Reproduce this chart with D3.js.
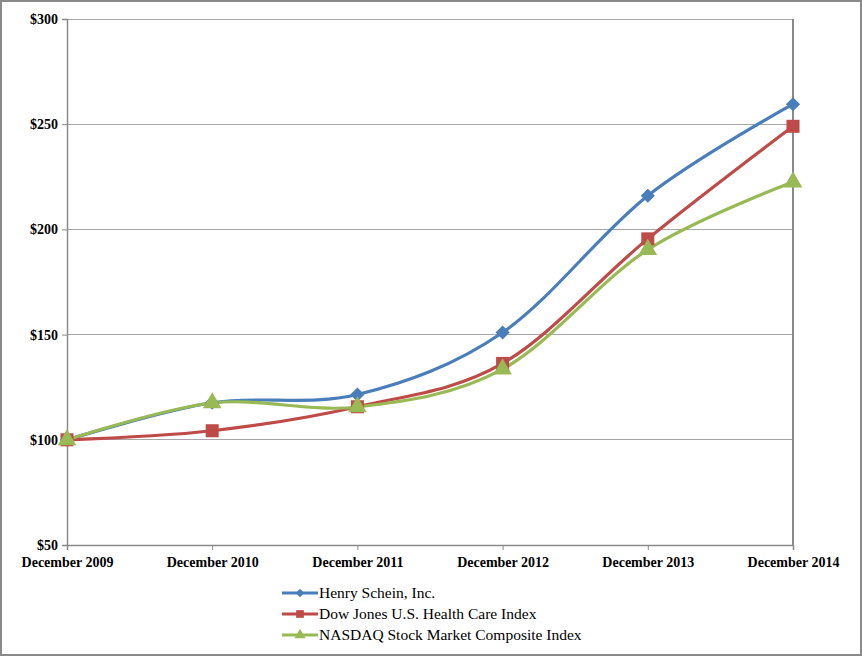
<!DOCTYPE html>
<html><head><meta charset="utf-8">
<script src="https://cdn.jsdelivr.net/npm/d3@7"></script>
<style>
html,body{margin:0;padding:0;background:#fff;}
svg{display:block;}
.lbl{font-family:'Liberation Serif','Times New Roman',serif;}
</style></head>
<body>
<svg id="c" width="862" height="656"></svg>
<script>
const categories = ["December 2009","December 2010","December 2011","December 2012","December 2013","December 2014"];
const henrySchein = [100, 117.6, 121.5, 151, 216, 259.5];
const dowJones = [100, 104.3, 115.7, 136.3, 195.5, 249];
const nasdaq = [100, 117.5, 115.6, 133.6, 190.4, 222.5];
const seriesNames = ["Henry Schein, Inc.","Dow Jones U.S. Health Care Index","NASDAQ Stock Market Composite Index"];
const yTicks = [50,100,150,200,250,300];

const series = [
  {name: seriesNames[0], values: henrySchein, color: "#4A7EBB", marker: d3.symbolSquare, rot: 45, size: 100},
  {name: seriesNames[1], values: dowJones, color: "#BE4B48", marker: d3.symbolSquare, rot: 0, size: 170},
  {name: seriesNames[2], values: nasdaq, color: "#98B954", marker: d3.symbolTriangle, rot: 0, size: 150}
];

const svg = d3.select("#c");
svg.append("rect").attr("x",1).attr("y",1).attr("width",860).attr("height",654)
  .attr("fill","#fff").attr("stroke","#8a8a8a").attr("stroke-width",2);

const L=67, R=793, T=19, B=545;
const x = d3.scalePoint().domain(categories).range([L,R]);
const y = d3.scaleLinear().domain([50,300]).range([B,T]);

svg.append("g").selectAll("line").data(yTicks.slice(1)).join("line")
  .attr("x1",L).attr("x2",R).attr("y1",d=>y(d)).attr("y2",d=>y(d))
  .attr("stroke","#a6a6a6").attr("stroke-width",1).attr("shape-rendering","crispEdges");
svg.append("line").attr("x1",R).attr("x2",R).attr("y1",T).attr("y2",B)
  .attr("stroke","#8a8a8a").attr("stroke-width",1.5).attr("shape-rendering","crispEdges");

const yAxis = svg.append("g").attr("transform",`translate(${L},0)`)
  .call(d3.axisLeft(y).tickValues(yTicks).tickSize(5).tickFormat(d=>"$"+d));
const xAxis = svg.append("g").attr("transform",`translate(0,${B})`)
  .call(d3.axisBottom(x).tickSize(5).tickPadding(4));
[yAxis,xAxis].forEach(a=>{
  a.attr("font-family",null).attr("font-size",null);
  a.select(".domain").attr("stroke","#8a8a8a").attr("stroke-width",1.5);
  a.selectAll(".tick line").attr("stroke","#8a8a8a");
  a.selectAll("text").classed("lbl",true)
    .style("font-size","14px").style("font-weight","bold").attr("fill","#000");
});
yAxis.selectAll("text").attr("dx",-1);
xAxis.selectAll("text").attr("dy","0.95em");

const line = d3.line().x((d,i)=>x(categories[i])).y(d=>y(d)).curve(d3.curveCatmullRom.alpha(0));

series.forEach(s=>{
  svg.append("path").datum(s.values).attr("d",line).attr("fill","none")
    .attr("stroke",s.color).attr("stroke-width",3.2).attr("stroke-linejoin","round");
});
series.forEach(s=>{
  svg.append("g").selectAll("path").data(s.values).join("path")
    .attr("d",d3.symbol().type(s.marker).size(s.size))
    .attr("transform",(d,i)=>`translate(${x(categories[i])},${y(d)}) rotate(${s.rot})`)
    .attr("fill",s.color);
});

const lg = svg.append("g");
series.forEach((s,i)=>{
  const yy = 593 + i*21;
  lg.append("line").attr("x1",282).attr("x2",318).attr("y1",yy).attr("y2",yy)
    .attr("stroke",s.color).attr("stroke-width",3.2);
  lg.append("path").attr("d",d3.symbol().type(s.marker).size(s.size*0.35))
    .attr("transform",`translate(300,${yy}) rotate(${s.rot})`).attr("fill",s.color);
  lg.append("text").attr("class","lbl").attr("x",319).attr("y",yy).attr("dy","0.35em")
    .style("font-size","15.5px").attr("fill","#000").text(s.name);
});
</script>
</body></html>
